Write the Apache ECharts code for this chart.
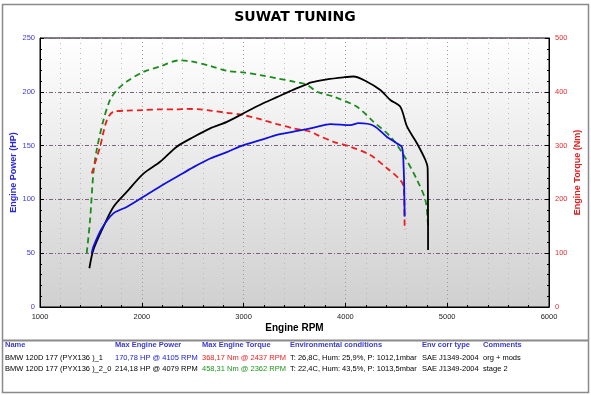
<!DOCTYPE html>
<html><head><meta charset="utf-8">
<script src="https://cdn.jsdelivr.net/npm/echarts@6/dist/echarts.min.js"></script>
<style>html,body{margin:0;padding:0;background:#fff}#c{width:591px;height:395px}</style>
</head><body><div id="c"></div>
<script>
// ---- data ----
const run1PowerRpm = [1508,1524,1607,1721,1852,2016,2180,2344,2508,2672,2836,2999,3163,3327,3491,3655,3721,3852,4048,4130,4277,4409,4507,4556,4572,4578,4582];
const run1PowerHp  = [50,56,73,87,93,102.5,112,121,130,138,144,150.5,155,160,163,166,167.5,170,169,170.8,168.5,158,152,148.5,130,110,84];
const run1TorqueRpm = [1508,1590,1656,1721,1852,2016,2180,2344,2437,2573,2672,2836,2999,3163,3327,3491,3655,3721,3884,4048,4244,4409,4540,4572,4579,4582];
const run1TorqueNm  = [248,298,347,363,365,366,367.5,367.5,368.2,367.5,365,361,357,349,340,332,326,320,307,298,282.5,258,236,224,186,143];
const run2PowerRpm = [1485,1524,1623,1721,1852,2016,2180,2344,2508,2672,2836,2999,3163,3327,3491,3622,3655,3819,3983,4079,4212,4343,4441,4540,4606,4704,4786,4808,4812];
const run2PowerHp  = [36,53,74.6,93,107,124,135,149,158,166,172,180,188,195,202,207,208.5,211.6,213.5,214.2,209.4,201.7,192.4,186,167.6,152,136.6,129,53];
const run2TorqueRpm = [1459,1492,1524,1557,1623,1688,1754,1852,2016,2180,2362,2475,2672,2836,2999,3163,3327,3491,3622,3721,3884,4114,4277,4441,4572,4704,4786,4808,4812];
const run2TorqueNm  = [100,162,248,292,347,385,403,419,437,447,458.3,457,448,439,436,431,425,419,413,400,391,372,344,317,282.5,236,199,162,147];

const xTicks = [1000,6000,1000];   // min, max, interval
const powerTicks = [0,250,50];
const torqueTicks = [0,500,100];

const title = 'SUWAT TUNING';
const tableHeaders = ['Name','Max Engine Power','Max Engine Torque','Environmental conditions','Env corr type','Comments'];
const row1 = ['BMW 120D 177 (PYX136 )_1','170,78 HP @ 4105 RPM','368,17 Nm @ 2437 RPM','T: 26,8C, Hum: 25,9%, P: 1012,1mbar','SAE J1349-2004','org + mods'];
const row2 = ['BMW 120D 177 (PYX136 )_2_0','214,18 HP @ 4079 RPM','458,31 Nm @ 2362 RPM','T: 22,4C, Hum: 43,5%, P: 1013,5mbar','SAE J1349-2004','stage 2'];

// ---- chart ----
const pair = (xs, ys) => xs.map((x, i) => [x, ys[i]]);
const colX = [5,115,202,290,422,483];
const row1Colors = ['#000','#2020dd','#ee2020','#000','#000','#000'];
const row2Colors = ['#000','#000','#1a961a','#000','#000','#000'];
const graphic = [
  {type:'rect', shape:{x:2.5,y:4.5,width:586,height:388}, style:{fill:'none',stroke:'#8a8a8a',lineWidth:1.5}, silent:true},
  {type:'line', shape:{x1:2,y1:340.5,x2:589,y2:340.5}, style:{stroke:'#8a8a8a',lineWidth:2}},
  {type:'text', x:295, y:10, style:{text:title, font:'900 14px "DejaVu Sans"', fill:'#000', align:'center'}}
];
tableHeaders.forEach((t,i)=>graphic.push({type:'text',x:colX[i],y:341,style:{text:t,font:'bold 7.5px "Liberation Sans"',fill:'#3a3ad0'}}));
row1.forEach((t,i)=>graphic.push({type:'text',x:colX[i],y:354,style:{text:t,font:'7.5px "Liberation Sans"',fill:row1Colors[i]}}));
row2.forEach((t,i)=>graphic.push({type:'text',x:colX[i],y:365,style:{text:t,font:'7.5px "Liberation Sans"',fill:row2Colors[i]}}));

const chart = echarts.init(document.getElementById('c'), null, {renderer:'canvas'});
chart.setOption({
  animation:false,
  backgroundColor:'#fff',
  grid:{left:40,right:42,top:38,bottom:88,show:true,borderColor:'#000',borderWidth:1,outerBoundsMode:'none',containLabel:false,
    backgroundColor:new echarts.graphic.LinearGradient(0,0,0,1,[{offset:0,color:'#ffffff'},{offset:1,color:'#d0d0d0'}])},
  xAxis:{type:'value',min:xTicks[0],max:xTicks[1],interval:xTicks[2],
    name:'Engine RPM',nameLocation:'middle',nameGap:16,nameMoveOverlap:false,
    nameTextStyle:{fontFamily:'Liberation Sans',fontWeight:'bold',fontSize:10,color:'#000'},
    axisLine:{lineStyle:{color:'#000'}},axisTick:{inside:true,length:4,lineStyle:{color:'#000'}},
    minorTick:{show:true,splitNumber:5,length:2,lineStyle:{color:'#000'}},
    axisLabel:{fontFamily:'Liberation Sans',fontSize:7.5,color:'#222',margin:6,formatter:v=>String(v)},
    splitLine:{show:true,lineStyle:{color:'#999',type:[1,3],width:1}},
    minorSplitLine:{show:true,lineStyle:{color:'#bbb',type:[1,4],width:1}}},
  yAxis:[
    {type:'value',min:powerTicks[0],max:powerTicks[1],interval:powerTicks[2],position:'left',
      name:'Engine Power (HP)',nameLocation:'middle',nameGap:22,nameMoveOverlap:false,
      nameTextStyle:{fontFamily:'Liberation Sans',fontWeight:'bold',fontSize:9,color:'#2a2ad8'},
      axisLine:{show:true,lineStyle:{color:'#000'}},axisTick:{show:true,inside:true,length:4,lineStyle:{color:'#000'}},
      minorTick:{show:true,splitNumber:5,length:2,lineStyle:{color:'#000'}},
      axisLabel:{fontFamily:'Liberation Sans',fontSize:7.5,color:'#3a3ad0',margin:5},
      splitLine:{show:true,lineStyle:{color:'#806080',type:[4,2,1,2],width:1}}},
    {type:'value',min:torqueTicks[0],max:torqueTicks[1],interval:torqueTicks[2],position:'right',
      name:'Engine Torque (Nm)',nameLocation:'middle',nameGap:24,nameRotate:90,nameMoveOverlap:false,
      nameTextStyle:{fontFamily:'Liberation Sans',fontWeight:'bold',fontSize:9,color:'#e02020'},
      axisLine:{show:true,lineStyle:{color:'#000'}},axisTick:{show:true,inside:true,length:4,lineStyle:{color:'#000'}},
      minorTick:{show:true,splitNumber:5,length:2,lineStyle:{color:'#000'}},
      axisLabel:{fontFamily:'Liberation Sans',fontSize:7.5,color:'#e03030',margin:6},
      splitLine:{show:false}}
  ],
  series:[
    {type:'line',name:'run2 torque',yAxisIndex:1,data:pair(run2TorqueRpm,run2TorqueNm),showSymbol:false,smooth:0.3,
      lineStyle:{color:'#1a8c1a',width:1.8,type:[6,4]}},
    {type:'line',name:'run1 torque',yAxisIndex:1,data:pair(run1TorqueRpm,run1TorqueNm),showSymbol:false,smooth:0.3,
      lineStyle:{color:'#ee1c1c',width:1.8,type:[6,4]}},
    {type:'line',name:'run2 power',yAxisIndex:0,data:pair(run2PowerRpm,run2PowerHp),showSymbol:false,smooth:0.3,
      lineStyle:{color:'#000',width:1.8}},
    {type:'line',name:'run1 power',yAxisIndex:0,data:pair(run1PowerRpm,run1PowerHp),showSymbol:false,smooth:0.3,
      lineStyle:{color:'#1010e0',width:1.8}}
  ],
  graphic:graphic
});
</script></body></html>
